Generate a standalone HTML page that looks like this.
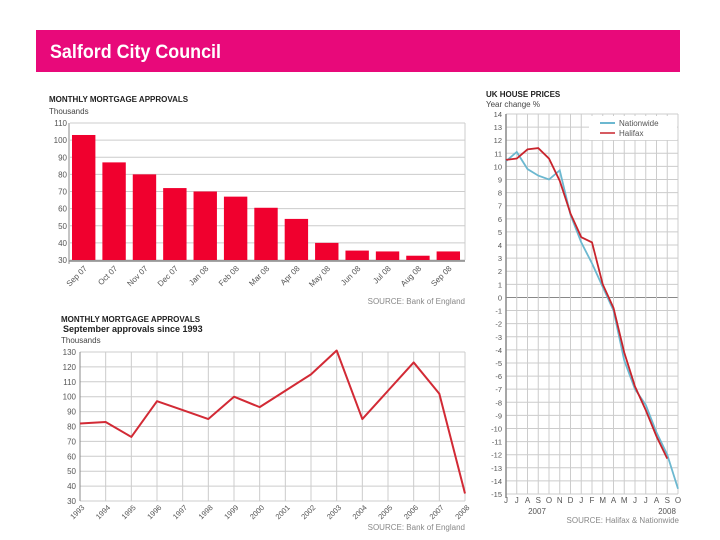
<!DOCTYPE html>
<html><head><meta charset="utf-8"><style>
body{margin:0;background:#fff;width:720px;height:540px;overflow:hidden;font-family:"Liberation Sans",sans-serif}
svg{position:absolute;left:0;top:0}
</style></head><body>
<svg id="s" width="720" height="540" xmlns="http://www.w3.org/2000/svg" font-family="Liberation Sans, sans-serif">
<rect x="36" y="30" width="644" height="42" fill="#e8097a"/>
<text x="50" y="58" fill="#fff" font-size="19" font-weight="bold" textLength="171" lengthAdjust="spacingAndGlyphs">Salford City Council</text>
<text x="49" y="102" font-size="8" font-weight="bold" fill="#222">MONTHLY MORTGAGE APPROVALS</text>
<text x="49" y="114" font-size="8" fill="#444">Thousands</text>
<text x="465" y="304" font-size="8" fill="#888" text-anchor="end">SOURCE: Bank of England</text>
<text x="61" y="322" font-size="8" font-weight="bold" fill="#222">MONTHLY MORTGAGE APPROVALS</text>
<text x="63" y="332" font-size="9" font-weight="bold" fill="#222">September approvals since 1993</text>
<text x="61" y="343" font-size="8" fill="#444">Thousands</text>
<text x="465" y="530" font-size="8" fill="#888" text-anchor="end">SOURCE: Bank of England</text>
<text x="486" y="97" font-size="8" font-weight="bold" fill="#222">UK HOUSE PRICES</text>
<text x="486" y="107" font-size="8" fill="#444">Year change %</text>
<text x="679" y="523" font-size="8" fill="#888" text-anchor="end">SOURCE: Halifax &amp; Nationwide</text>
<g id="g1"></g><g id="g2"></g><g id="g3"></g>
</svg>
<script>
const barCats=["Sep 07","Oct 07","Nov 07","Dec 07","Jan 08","Feb 08","Mar 08","Apr 08","May 08","Jun 08","Jul 08","Aug 08","Sep 08"];
const barVals=[103,87,80,72,70,67,60.5,54,40,35.5,35,32.5,35];
const barTicks=[30,40,50,60,70,80,90,100,110];
const years=["1993","1994","1995","1996","1997","1998","1999","2000","2001","2002","2003","2004","2005","2006","2007","2008"];
const sepVals=[82,83,73,97,91,85,100,93,104,115,131,85,104,123,102,35];
const lineTicks=[30,40,50,60,70,80,90,100,110,120,130];
const months=["J","J","A","S","O","N","D","J","F","M","A","M","J","J","A","S","O"];
const nationwide=[10.4,11.1,9.8,9.3,9.0,9.7,6.3,4.2,2.6,0.8,-1.0,-4.8,-7.0,-8.2,-10.3,-12.0,-14.6];
const halifax=[10.5,10.6,11.3,11.4,10.6,8.9,6.4,4.6,4.2,1.0,-0.8,-4.2,-6.8,-8.6,-10.6,-12.3];
const hpTicks=[-15,-14,-13,-12,-11,-10,-9,-8,-7,-6,-5,-4,-3,-2,-1,0,1,2,3,4,5,6,7,8,9,10,11,12,13,14];
const NS="http://www.w3.org/2000/svg";
function mk(p,t,a,txt){const e=document.createElementNS(NS,t);for(const k in a)e.setAttribute(k,a[k]);if(txt!=null)e.textContent=txt;p.appendChild(e);return e;}
// bar chart
(function(){const g=document.getElementById('g1');
const x0=70,x1=465,yT=123,yB=260;const y=v=>yB-(v-30)/80*(yB-yT);const step=(x1-x0)/barCats.length;
barTicks.forEach(t=>{const l=mk(g,'line',{x1:x0,x2:x1,y1:y(t),y2:y(t),stroke:'#ccc','stroke-width':1});

const tx=mk(g,'text',{x:x0-3,y:y(t)+3,'font-size':8,fill:'#555','text-anchor':'end'},t);
});
mk(g,'line',{x1:x1,x2:x1,y1:yT,y2:yB,stroke:'#ccc'});
barVals.forEach((v,i)=>{const bx=x0+2+i*step;
const r=mk(g,'rect',{x:bx,y:y(v),width:step*0.77,height:yB-y(v),fill:'#f0002e'});

const cx=bx+step*0.38;const tx=mk(g,'text',{x:cx+4,y:yB+9,'font-size':8,fill:'#555','text-anchor':'end',transform:`rotate(-45 ${cx+4} ${yB+9})`},barCats[i]);
});
mk(g,'line',{x1:x0-1,x2:x1,y1:yB+1,y2:yB+1,stroke:'#888','stroke-width':1.5});
mk(g,'line',{x1:x0-1,x2:x0-1,y1:yT,y2:yB+4,stroke:'#888','stroke-width':1});
})();
// line chart
(function(){const g=document.getElementById('g2');
const x0=80,x1=465,yT=352,yB=501;const y=v=>yB-(v-30)/100*(yB-yT);const x=i=>x0+i*(x1-x0)/(years.length-1);
lineTicks.forEach(t=>{mk(g,'line',{x1:x0,x2:x1,y1:y(t),y2:y(t),stroke:'#ccc'});
const tx=mk(g,'text',{x:x0-4,y:y(t)+3,'font-size':8,fill:'#555','text-anchor':'end'},t);
});
years.forEach((yr,i)=>{mk(g,'line',{x1:x(i),x2:x(i),y1:yT,y2:yB,stroke:'#ccc'});
const tx=mk(g,'text',{x:x(i)+5,y:yB+7,'font-size':7.5,fill:'#555','text-anchor':'end',transform:`rotate(-45 ${x(i)+5} ${yB+7})`},yr);
});
mk(g,'line',{x1:x0,x2:x0,y1:yT,y2:yB,stroke:'#888'});
const p=mk(g,'polyline',{points:sepVals.map((v,i)=>x(i)+','+y(v)).join(' '),fill:'none',stroke:'#d22a35','stroke-width':2,'stroke-linejoin':'round'});

})();
// house prices
(function(){const g=document.getElementById('g3');
const x0=506,x1=678,yT=114,yB=494;const y=v=>yB-(v+15)/29*(yB-yT);const x=i=>x0+i*(x1-x0)/(months.length-1);
hpTicks.forEach(t=>{mk(g,'line',{x1:x0,x2:x1,y1:y(t),y2:y(t),stroke:t===0?'#888':'#ccc'});
const tx=mk(g,'text',{x:x0-4,y:y(t)+3,'font-size':7.5,fill:'#555','text-anchor':'end'},t);
});
months.forEach((m,i)=>{mk(g,'line',{x1:x(i),x2:x(i),y1:yT,y2:yB,stroke:'#ccc'});
const tx=mk(g,'text',{x:x(i),y:yB+9,'font-size':8,fill:'#555','text-anchor':'middle'},m);
});
mk(g,'line',{x1:x0,x2:x0,y1:yT,y2:yB+4,stroke:'#888','stroke-width':1.5});
mk(g,'text',{x:537,y:514,'font-size':8,fill:'#555','text-anchor':'middle'},'2007');
mk(g,'text',{x:667,y:514,'font-size':8,fill:'#555','text-anchor':'middle'},'2008');
const n=mk(g,'polyline',{points:nationwide.map((v,i)=>x(i)+','+y(v)).join(' '),fill:'none',stroke:'#6cb8d0','stroke-width':1.8});

const h=mk(g,'polyline',{points:halifax.map((v,i)=>x(i)+','+y(v)).join(' '),fill:'none',stroke:'#c8242c','stroke-width':1.8});

const lg=mk(g,'g',{});
mk(lg,'rect',{x:589,y:116,width:88,height:24,fill:'#fff'});
mk(lg,'line',{x1:600,x2:615,y1:123,y2:123,stroke:'#6cb8d0','stroke-width':2});
mk(lg,'text',{x:619,y:126,'font-size':8,fill:'#555'},'Nationwide');
mk(lg,'line',{x1:600,x2:615,y1:133,y2:133,stroke:'#c8242c','stroke-width':1.5});
mk(lg,'text',{x:619,y:136,'font-size':8,fill:'#555'},'Halifax');
})();
</script>
</body></html>
